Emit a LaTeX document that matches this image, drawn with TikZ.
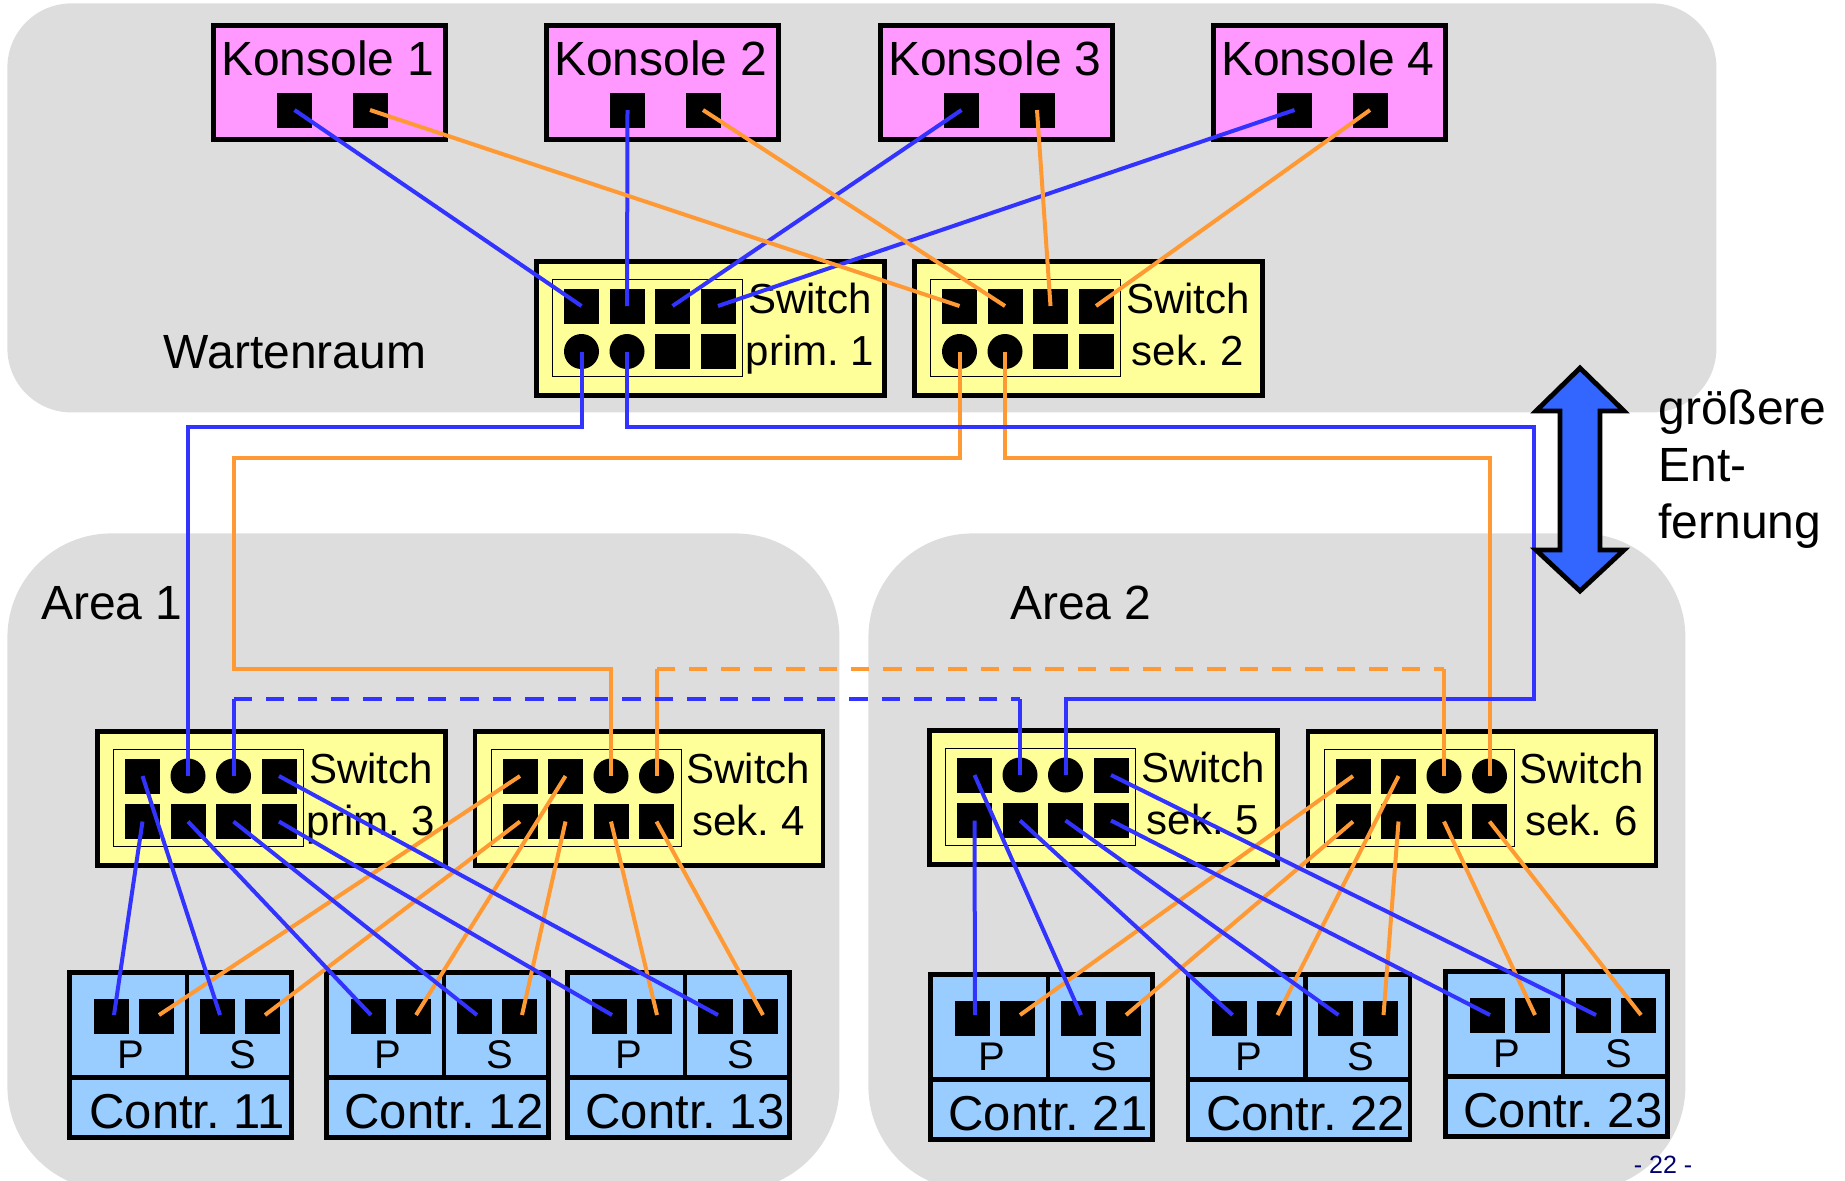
\documentclass[tikz,border=0pt]{standalone}
\usepackage{fontspec}
\setmainfont{Liberation Sans}
\frenchspacing
\usetikzlibrary{calc}

\definecolor{panelgrey}{HTML}{DDDDDD}
\definecolor{consolepink}{HTML}{FF99FF}
\definecolor{switchyellow}{HTML}{FFFF99}
\definecolor{contrblue}{HTML}{99CCFF}
\definecolor{arrowblue}{HTML}{3366FF}
\definecolor{primblue}{HTML}{3333FF}
\definecolor{sekorange}{HTML}{FF9933}
\definecolor{pagenavy}{HTML}{000070}

\begin{document}
\begin{tikzpicture}[
    x=.5pt, y=-.5pt,
    % Define node styles
    panel/.style={rectangle, fill=panelgrey, anchor=north west, inner sep=0pt},
    box/.style={rectangle, draw=black, line width=2.25pt, anchor=north west, inner sep=0pt},
    console/.style={box, fill=consolepink, minimum width=116pt, minimum height=57pt},
    switch/.style={box, fill=switchyellow, minimum width=174pt, minimum height=67pt},
    frame/.style={rectangle, draw=black, line width=.5pt, anchor=north west, inner sep=0pt,
                  minimum width=95pt, minimum height=48.5pt},
    contr/.style={box, fill=contrblue},
    sq/.style={rectangle, fill=black, inner sep=0pt, minimum size=17.5pt},
    rd/.style={circle, fill=black, inner sep=0pt, minimum size=17.5pt},
    bigtext/.style={anchor=base, inner sep=0pt, font=\fontsize{24}{28.5}\selectfont},
    contrtext/.style={anchor=base, inner sep=0pt, font=\fontsize{24.5}{30}\selectfont},
    swtext/.style={anchor=base, inner sep=0pt, align=center, font=\fontsize{21}{26}\selectfont},
    pstext/.style={anchor=base, inner sep=0pt, font=\fontsize{20}{22}\selectfont},
    primline/.style={draw=primblue, line width=2pt},
    sekline/.style={draw=sekorange, line width=2pt},
    dashline/.style={dash pattern=on 9.2pt off 7pt}
]
    \useasboundingbox (0,0) rectangle (1845,1180);
    \clip (0,0) rectangle (1845,1180);

    % Create room and area backgrounds
    \node[panel, minimum width=854.5pt, minimum height=204.5pt, rounded corners=32pt] (room) at (7,3) {};
    \node[panel, minimum width=416pt, minimum height=328.5pt, rounded corners=52pt] (area1) at (7,533) {};
    \node[panel, minimum width=408.5pt, minimum height=328.5pt, rounded corners=52pt] (area2) at (868,533) {};
    \node[bigtext] (roomtext) at (295,368) {Wartenraum};
    \node[bigtext] (area1text) at (112,619) {Area 1};
    \node[bigtext] (area2text) at (1081,619) {Area 2};

    % Create consoles
    \foreach \n/\x in {1/212,2/545,3/879,4/1212}{
        \node[console] (k\n) at (\x-1,23) {};
        \node[bigtext] (k\n text) at (\x+116,75) {Konsole \n};
        \node[sq] (k\n a) at (\x+82.5,110) {};
        \node[sq] (k\n b) at (\x+158,110) {};
    }

    % Create switches
    \foreach \n/\x/\y/\lab/\rowa/\rowb in {
        1/536/259/prim. 1/{sq,sq,sq,sq}/{rd,rd,sq,sq},
        2/914/259/sek. 2/{sq,sq,sq,sq}/{rd,rd,sq,sq},
        3/97/729/prim. 3/{sq,rd,rd,sq}/{sq,sq,sq,sq},
        4/474.5/729/sek. 4/{sq,sq,rd,rd}/{sq,sq,sq,sq},
        5/929/728/sek. 5/{sq,rd,rd,sq}/{sq,sq,sq,sq},
        6/1307.5/729/sek. 6/{sq,sq,rd,rd}/{sq,sq,sq,sq}}{
        \node[switch] (s\n) at (\x-2,\y) {};
        \node[frame] (s\n f) at (\x+16,\y+20) {};
        \node[swtext] (s\n text) at (\x+274,\y+106) {Switch\\\lab};
        \foreach \k [count=\c] in \rowa
            \node[\k] (s\n t\c) at (\x+45.5*\c,\y+47) {};
        \foreach \k [count=\c] in \rowb
            \node[\k] (s\n b\c) at (\x+45.5*\c,\y+92.5) {};
    }

    % Create controllers
    \foreach \n/\x/\y in {11/69/970,12/326/970,13/567/970,21/930/972,22/1187.5/972,23/1445/969}{
        \node[contr, minimum width=58.75pt, minimum height=52.5pt] (c\n p) at (\x-2,\y) {};
        \node[contr, minimum width=52.25pt, minimum height=52.5pt] (c\n s) at (\x+115.5,\y) {};
        \node[contr, minimum width=111pt, minimum height=30pt] (c\n n) at (\x-2,\y+105) {};
        \node[contrtext] (c\n text) at (\x+118,\y+158) {Contr. \n};
        \node[pstext] (c\n ptext) at (\x+61.5,\y+98) {P};
        \node[pstext] (c\n stext) at (\x+173.5,\y+98) {S};
        \foreach \m/\d in {pa/42,pb/87,sa/148,sb/193}{
            \node[sq] (c\n\m) at (\x+\d,\y+46) {};
            \coordinate (c\n\m end) at (\x+\d+3,1015);
        }
    }

    % Draw console lines
    \foreach \n in {1,2,3,4}
        \draw[primline] (k\n a.center) -- (s1t\n.center);
    \foreach \n in {1,2,3,4}
        \draw[sekline] (k\n b.center) -- (s2t\n.center);

    % Draw long lines between the rooms
    \coordinate (primturn) at (1534,699);
    \coordinate (sekturn) at (233.5,669);
    \draw[sekline] (s2b1.center) -- ++(0,106) -| (sekturn) -| (s4t3.center);
    \draw[sekline] (s2b2.center) -- ++(0,106) -| (s6t4.center);
    \draw[primline] (s1b1.center) -- ++(0,75) -| (s3t2.center);
    \draw[primline] (s1b2.center) -- ++(0,75) -| (primturn) -| (s5t3.center);

    % Draw dashed lines between the areas
    \draw[sekline] (s4t4.center) -- (s4t4 |- sekturn);
    \draw[sekline, dashline] (s4t4 |- sekturn) -- (s6t3 |- sekturn);
    \draw[sekline] (s6t3 |- sekturn) -- (s6t3.center);
    \draw[primline] (s3t3.center) -- (s3t3 |- primturn);
    \draw[primline, dashline] (s3t3 |- primturn) -- (s5t2 |- primturn);
    \draw[primline] (s5t2 |- primturn) -- (s5t2.center);

    % Draw lines from switches to controllers
    \foreach \p/\q/\g in {3/4/1,5/6/2}{
        \foreach \a/\b in {t1/1pb,b1/1sb,t2/2pb,b2/2sb,b3/3pb,b4/3sb}
            \draw[sekline] (s\q\a.center) -- (c\g\b end);
        \foreach \a/\b in {b1/1pa,t1/1sa,b2/2pa,b3/2sa,b4/3pa,t4/3sa}
            \draw[primline] (s\p\a.center) -- (c\g\b end);
    }

    % Distance arrow and page number
    \draw[line width=2.4pt, fill=arrowblue, miter limit=10]
        (1580,368) -- (1624,411) -- (1600,411) -- (1600,550) -- (1624,550)
        -- (1580,591) -- (1536,550) -- (1560,550) -- (1560,411) -- (1536,411) -- cycle;
    \node[bigtext, anchor=base west, align=left] (disttext) at (1658,538) {größere\\Ent-\\fernung};
    \node[anchor=base, inner sep=0pt, text=pagenavy, font=\fontsize{12.5}{15}\selectfont] (pagetext) at (1663,1173) {- 22 -};
\end{tikzpicture}
\end{document}
